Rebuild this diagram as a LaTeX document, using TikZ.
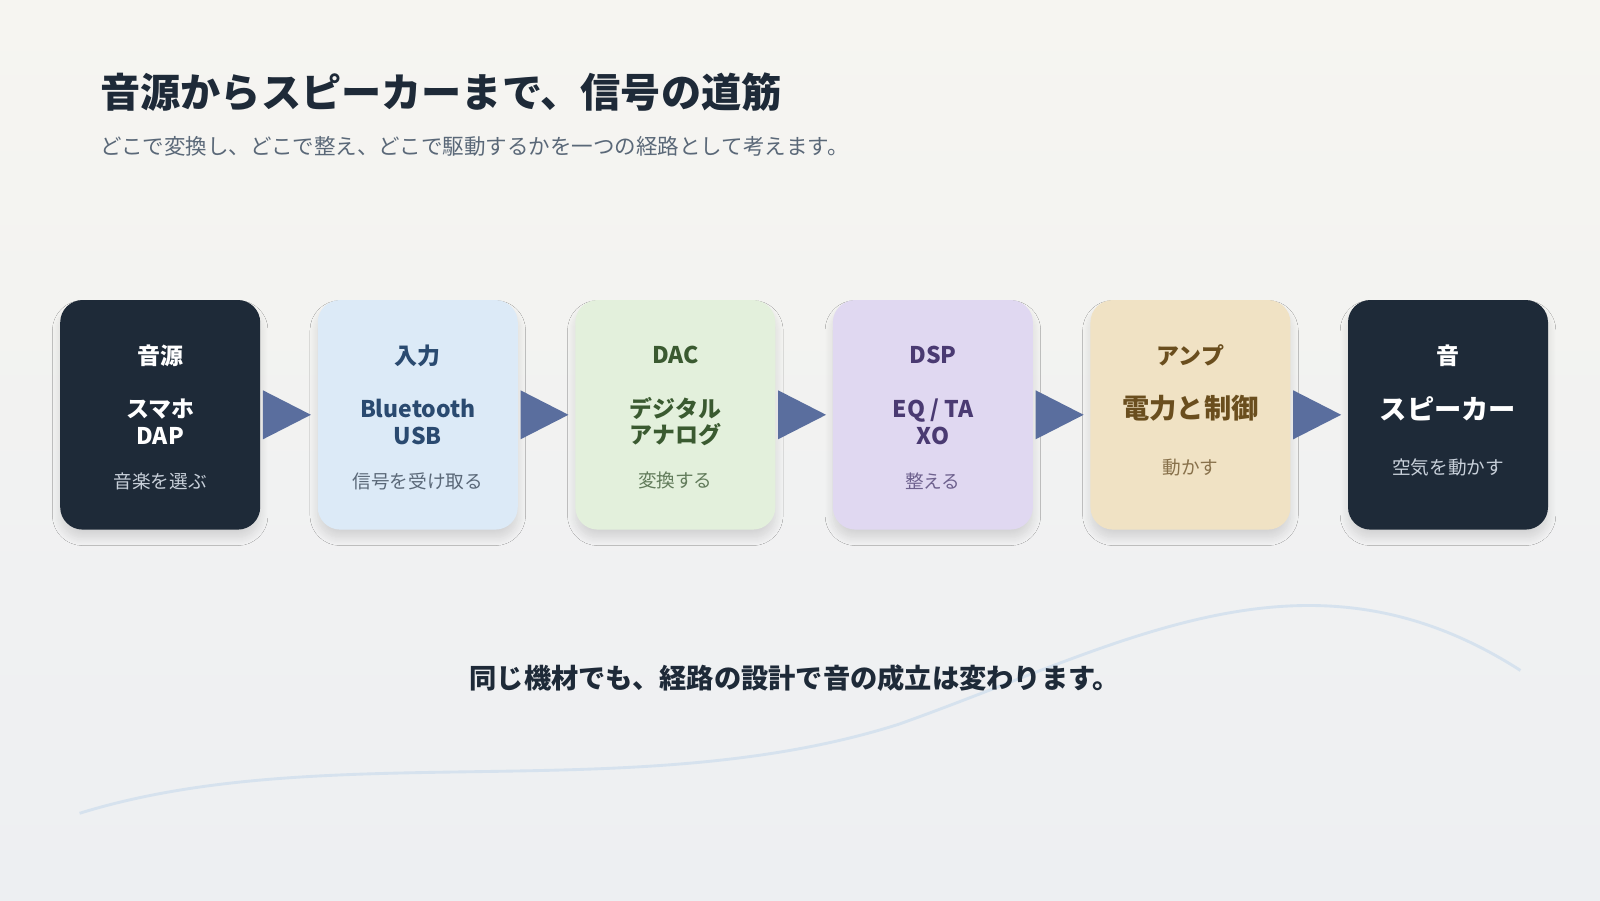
\documentclass[tikz,border=0pt]{standalone}
\usepackage{fontspec}
\setmainfont{Noto Sans CJK JP}
\usetikzlibrary{positioning,shadows.blur}
\definecolor{ink}{HTML}{1E2A38}
\definecolor{subgray}{HTML}{5A6878}
\definecolor{lightgray}{HTML}{C8D0DA}
\definecolor{bgtop}{HTML}{F6F5F1}\definecolor{bgbot}{HTML}{EDEFF2}
\definecolor{bluebox}{HTML}{DCEAF7}\definecolor{bluetxt}{HTML}{2A4A70}
\definecolor{greenbox}{HTML}{E3F0DC}\definecolor{greentxt}{HTML}{3A5A30}
\definecolor{purplebox}{HTML}{E0D8F1}\definecolor{purpletxt}{HTML}{4A3A72}
\definecolor{tanbox}{HTML}{F0E2C4}\definecolor{tantxt}{HTML}{6A4E1E}
\definecolor{arrowblue}{HTML}{5A6E9E}
\definecolor{wave}{HTML}{D6E2EE}
\tikzset{
  stage/.style={rectangle, rounded corners=0.22cm, minimum width=1.96cm, minimum height=2.25cm,
    blur shadow={shadow xshift=0pt, shadow yshift=-0.08cm, shadow blur steps=8, shadow opacity=12}},
  head/.style={font=\fontsize{6.4}{7.4}\selectfont\bfseries, align=center},
  big/.style={font=\fontsize{7.6}{8.6}\selectfont\bfseries, align=center},
  note/.style={font=\fontsize{5.2}{6}\selectfont, align=center},
  flowtip/.style={fill=arrowblue, draw=none}
}
\begin{document}
\begin{tikzpicture}
  \shade[top color=bgtop, bottom color=bgbot] (0,0) rectangle (15.68,8.82);
  \useasboundingbox (0,0) rectangle (15.68,8.82);

  % wave
  \draw[wave, line width=0.8pt] (0.78,0.85) .. controls (3.2,1.6) and (6.2,0.9) .. (8.8,1.72)
     .. controls (11,2.5) and (12.8,3.6) .. (14.9,2.25);

  % title
  \node[anchor=west, font=\fontsize{11.2}{13}\selectfont\bfseries, text=ink] (title) at (0.86,7.92) {音源からスピーカーまで、信号の道筋};
  \node[anchor=west, font=\fontsize{6}{7}\selectfont, text=subgray] (subtitle) at (0.86,7.39) {どこで変換し、どこで整え、どこで駆動するかを一つの経路として考えます。};

  % stages
  \node[stage, fill=ink] (src) at (1.57,4.755) {};
  \node[stage, fill=bluebox, right=0.55cm of src] (input) {};
  \node[stage, fill=greenbox, right=0.55cm of input] (dac) {};
  \node[stage, fill=purplebox, right=0.55cm of dac] (dsp) {};
  \node[stage, fill=tanbox, right=0.55cm of dsp] (amp) {};
  \node[stage, fill=ink, right=0.55cm of amp] (spk) {};

  \node[head, text=white] at ([yshift=-0.55cm]src.north) {音源};
  \node[head, text=white] at ([yshift=-1.2cm]src.north) {スマホ\\DAP};
  \node[note, text=lightgray] at ([yshift=-1.78cm]src.north) {音楽を選ぶ};

  \node[head, text=bluetxt] at ([yshift=-0.55cm]input.north) {入力};
  \node[head, text=bluetxt] at ([yshift=-1.2cm]input.north) {Bluetooth\\USB};
  \node[note, text=subgray] at ([yshift=-1.78cm]input.north) {信号を受け取る};

  \node[head, text=greentxt] at ([yshift=-0.55cm]dac.north) {DAC};
  \node[head, text=greentxt] at ([yshift=-1.2cm]dac.north) {デジタル\\アナログ};
  \node[note, text=greentxt!80] at ([yshift=-1.78cm]dac.north) {変換する};

  \node[head, text=purpletxt] at ([yshift=-0.55cm]dsp.north) {DSP};
  \node[head, text=purpletxt] at ([yshift=-1.2cm]dsp.north) {EQ / TA\\XO};
  \node[note, text=purpletxt!80] at ([yshift=-1.78cm]dsp.north) {整える};

  \node[head, text=tantxt] at ([yshift=-0.55cm]amp.north) {アンプ};
  \node[big, text=tantxt] at ([yshift=-1.07cm]amp.north) {電力と制御};
  \node[note, text=tantxt!80] at ([yshift=-1.65cm]amp.north) {動かす};

  \node[head, text=white] at ([yshift=-0.55cm]spk.north) {音};
  \node[big, text=white] at ([yshift=-1.07cm]spk.north) {スピーカー};
  \node[note, text=lightgray] at ([yshift=-1.65cm]spk.north) {空気を動かす};

  % arrows
  \foreach \a/\b in {src/input, input/dac, dac/dsp, dsp/amp, amp/spk}
    \fill[flowtip] ([xshift=0.02cm,yshift=0.24cm]\a.east) -- ([xshift=-0.06cm]\b.west) -- ([xshift=0.02cm,yshift=-0.24cm]\a.east) -- cycle;

  % closing line
  \node[font=\fontsize{7.6}{9}\selectfont\bfseries, text=ink] (closing) at (7.79,2.17) {同じ機材でも、経路の設計で音の成立は変わります。};
\end{tikzpicture}
\end{document}
